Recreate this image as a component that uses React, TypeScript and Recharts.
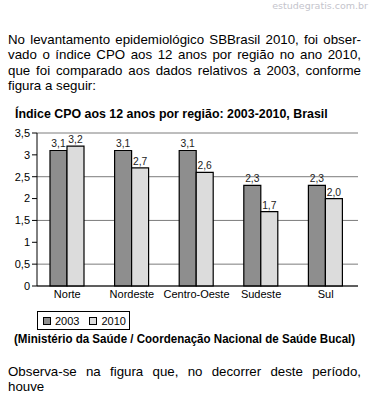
import { BarChart, Bar, XAxis, YAxis, CartesianGrid, LabelList } from 'recharts'

const regions = ['Norte', 'Nordeste', 'Centro-Oeste', 'Sudeste', 'Sul']
const cpo2003 = [3.1, 3.1, 3.1, 2.3, 2.3]
const cpo2010 = [3.2, 2.7, 2.6, 1.7, 2.0]
const yTicks = [0, 0.5, 1, 1.5, 2, 2.5, 3, 3.5]
const seriesNames = ['2003', '2010']

const introLines = [
  'No levantamento epidemiológico SBBrasil 2010, foi obser-',
  'vado o índice CPO aos 12 anos por região no ano 2010,',
  'que foi comparado aos dados relativos a 2003, conforme',
  'figura a seguir:',
]
const outroLines = ['Observa-se na figura que, no decorrer deste período,', 'houve']

const DARK = '#8e8e8e'
const LIGHT = '#dcdcdc'
const comma = (v: number) => v.toFixed(1).replace('.', ',')

const sans = '"Liberation Sans", Arial, sans-serif'

function Para({ lines, top }: { lines: string[]; top: number }) {
  return (
    <div style={{ position: 'absolute', left: 8, top, width: 353, fontFamily: sans, fontSize: 13.3, lineHeight: '15.4px', color: '#000' }}>
      {lines.map((l, i) => (
        <div key={i} style={{ textAlign: 'justify', textAlignLast: i < lines.length - 1 ? 'justify' : 'left', whiteSpace: 'nowrap' }}>{l}</div>
      ))}
    </div>
  )
}

export default function App() {
  const data = regions.map((r, i) => ({ region: r, a: cpo2003[i], b: cpo2010[i] }))
  const tickStyle = { fill: '#000', fontSize: 11, fontFamily: sans }
  const labelStyle = { fontSize: 10.3, fill: '#222' }

  return (
    <div style={{ position: 'absolute', left: 0, top: 0, width: 370, height: 400, background: '#fff', overflow: 'hidden' }}>
      <div style={{ position: 'absolute', right: 2, top: 0, fontFamily: '"DejaVu Sans", sans-serif', fontSize: 9.5, color: '#c4c4cc' }}>
        estudegratis.com.br
      </div>
      <Para lines={introLines} top={32} />
      <div style={{ position: 'absolute', left: 15, top: 107, fontFamily: sans, fontSize: 12.4, fontWeight: 'bold', color: '#000', whiteSpace: 'nowrap' }}>
        Índice CPO aos 12 anos por região: 2003-2010, Brasil
      </div>
      <div style={{ position: 'absolute', left: 0, top: 120 }}>
        <BarChart width={370} height={190} data={data} margin={{ top: 13, right: 12, left: 0, bottom: 4 }}
          barGap={0} barSize={17} style={{ fontFamily: sans }}>
          <CartesianGrid vertical={false} stroke="#7c7c7c" />
          <XAxis dataKey="region" interval={0} tick={tickStyle} tickLine={false} tickSize={2} tickMargin={2}
            height={20} axisLine={{ stroke: '#000' }} padding={{ left: -2, right: 0 }} />
          <YAxis domain={[0, 3.5]} ticks={yTicks} width={37} tick={tickStyle} tickSize={5} tickMargin={2}
            tickFormatter={(v: number) => String(v).replace('.', ',')} axisLine={{ stroke: '#000' }} tickLine={{ stroke: '#000' }} />
          <Bar dataKey="a" name={seriesNames[0]} fill={DARK} stroke="#000" strokeWidth={1.2} isAnimationActive={false}>
            <LabelList dataKey="a" position="top" offset={3} formatter={(v: number) => comma(v)} style={labelStyle} />
          </Bar>
          <Bar dataKey="b" name={seriesNames[1]} fill={LIGHT} stroke="#000" strokeWidth={1.2} isAnimationActive={false}>
            <LabelList dataKey="b" position="top" offset={3} formatter={(v: number) => comma(v)} style={labelStyle} />
          </Bar>
        </BarChart>
      </div>
      <div style={{ position: 'absolute', left: 37, top: 311, width: 93, height: 19, boxSizing: 'border-box', border: '1px solid #000', fontFamily: sans, fontSize: 11, display: 'flex', alignItems: 'center', whiteSpace: 'nowrap' }}>
        {seriesNames.map((n, i) => (
          <div key={n} style={{ display: 'flex', alignItems: 'center', marginLeft: i === 0 ? 5 : 10 }}>
            <span style={{ width: 6, height: 6, border: '1px solid #000', background: i === 0 ? DARK : LIGHT, marginRight: 4 }} />
            <span>{n}</span>
          </div>
        ))}
      </div>
      <div style={{ position: 'absolute', left: 14, top: 332, fontFamily: sans, fontSize: 12.5, fontWeight: 'bold', color: '#000', whiteSpace: 'nowrap', transform: 'scaleX(0.925)', transformOrigin: 'left top' }}>
        (Ministério da Saúde / Coordenação Nacional de Saúde Bucal)
      </div>
      <Para lines={outroLines} top={364} />
    </div>
  )
}
